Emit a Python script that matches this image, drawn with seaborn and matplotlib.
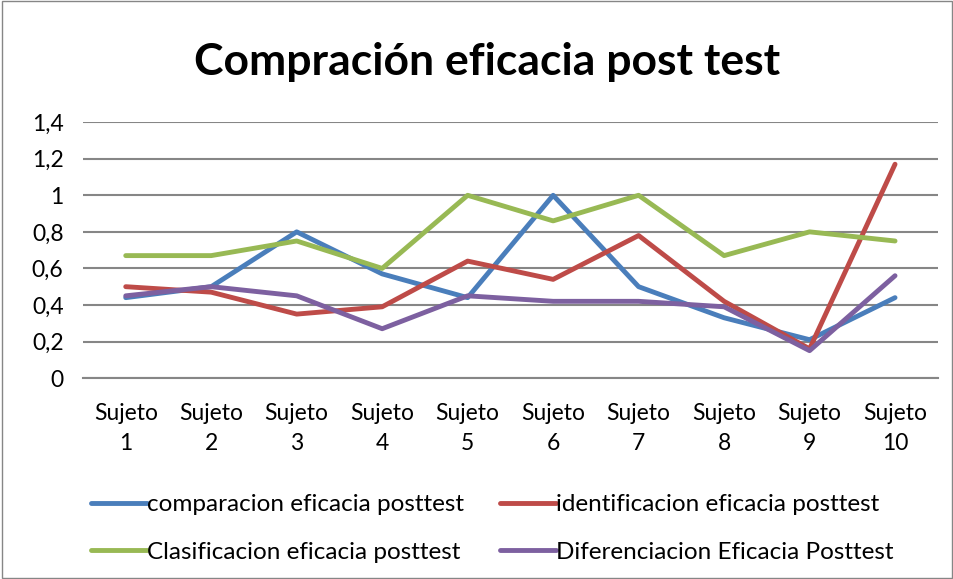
import numpy as np
import pandas as pd
import seaborn as sns
import matplotlib.pyplot as plt
from matplotlib.patches import Rectangle

sns.set_theme(style="white")
plt.rcParams['font.family'] = ['Lato', 'DejaVu Sans']
plt.rcParams['text.color'] = 'black'

sujetos = [f"Sujeto\n{i}" for i in range(1, 11)]
comparacion = [0.44, 0.50, 0.80, 0.57, 0.44, 1.00, 0.50, 0.33, 0.21, 0.44]
identificacion = [0.50, 0.47, 0.35, 0.39, 0.64, 0.54, 0.78, 0.42, 0.16, 1.17]
clasificacion = [0.67, 0.67, 0.75, 0.60, 1.00, 0.86, 1.00, 0.67, 0.80, 0.75]
diferenciacion = [0.45, 0.50, 0.45, 0.27, 0.45, 0.42, 0.42, 0.39, 0.15, 0.56]

series_names = ["comparacion eficacia posttest", "identificacion eficacia posttest",
                "Clasificacion eficacia posttest", "Diferenciacion Eficacia Posttest"]
palette = ["#4A7EBB", "#BE4B48", "#98B954", "#7D60A0"]

df = pd.DataFrame({"sujeto": sujetos * 4,
                   "valor": comparacion + identificacion + clasificacion + diferenciacion,
                   "serie": np.repeat(series_names, len(sujetos))})

fig = plt.figure(figsize=(9.54, 5.79), dpi=100)
ax = fig.add_axes([0.087, 0.347, 0.896, 0.442])

sns.lineplot(data=df, x="sujeto", y="valor", hue="serie", palette=palette,
             linewidth=3.5, sort=False, ax=ax, legend=False)

yticks = np.arange(0, 1.41, 0.2)
ax.set_xlim(-0.5, 9.5)
ax.set_ylim(0, 1.4)
ax.set_yticks(yticks)
ax.set_yticklabels(["0", "0,2", "0,4", "0,6", "0,8", "1", "1,2", "1,4"])
ax.yaxis.grid(True, color="#868686", linewidth=1.5)
ax.set_axisbelow(True)
for s in ["top", "right", "left"]:
    ax.spines[s].set_visible(False)
ax.spines["bottom"].set_color("#868686")
ax.spines["bottom"].set_linewidth(1.5)
ax.tick_params(axis="both", labelsize=16.5, colors="black", length=0)
ax.tick_params(axis="x", pad=18)
ax.tick_params(axis="y", pad=14)
ax.set_xlabel("")
ax.set_ylabel("")
for lbl in ax.get_xticklabels():
    lbl.set_linespacing(1.55)

fig.text(0.511, 0.893, "Compración eficacia post test", ha="center", va="center",
         fontsize=32, fontweight="bold", color="black")

# legend fills column-wise, so order the entries to read row by row
order = [0, 2, 1, 3]
handles = [plt.Line2D([], [], color=palette[i], linewidth=3.5) for i in order]
labels = [series_names[i] for i in order]
fig.legend(handles, labels, loc="lower center", bbox_to_anchor=(0.516, -0.01),
           ncol=2, frameon=False, fontsize=17.5, handlelength=2.3, handletextpad=0.0,
           columnspacing=1.5, labelspacing=1.1)

fig.add_artist(Rectangle((0.002, 0.002), 0.996, 0.996, transform=fig.transFigure,
                         fill=False, edgecolor="#868686", linewidth=1))

fig.savefig("out.png", dpi=100)
